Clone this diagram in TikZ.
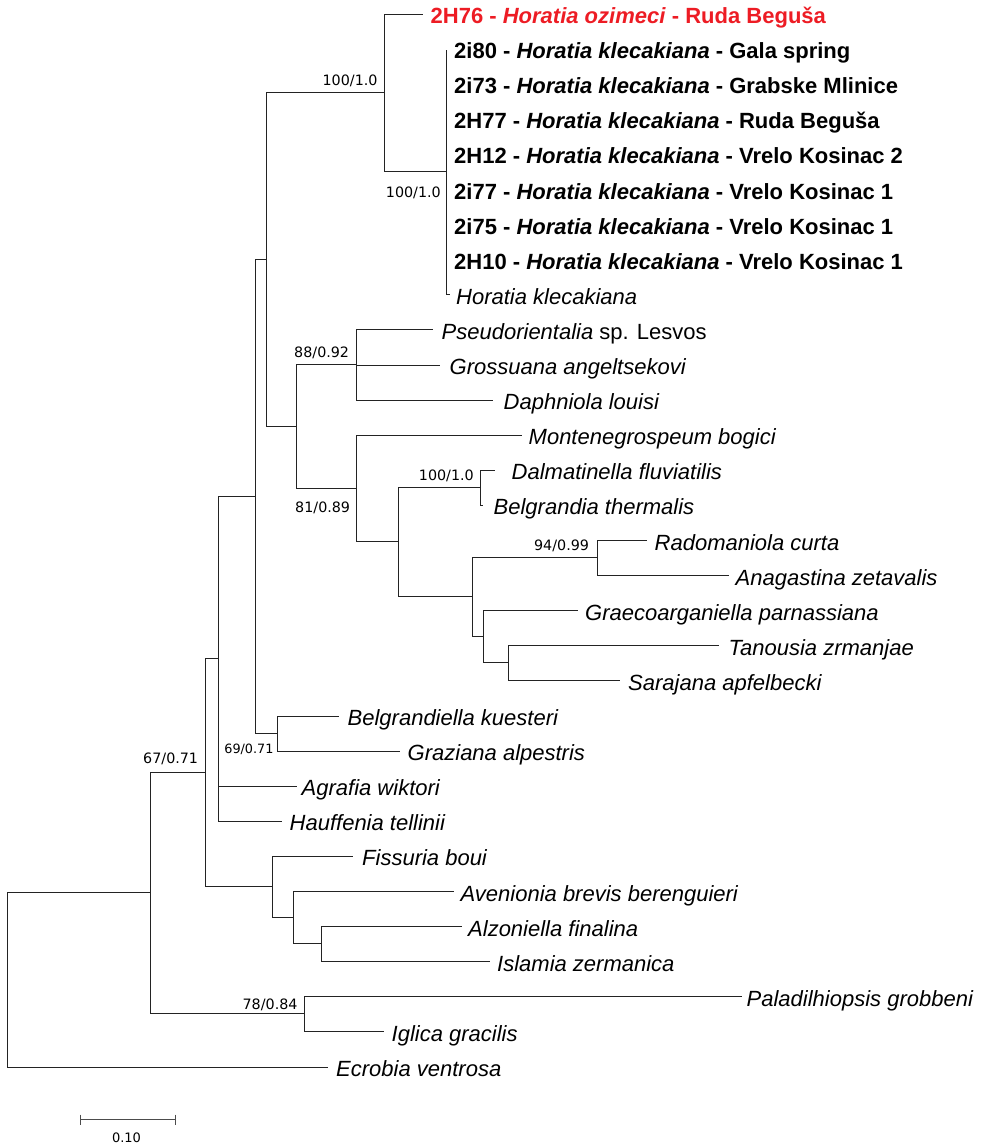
\documentclass[tikz,border=0pt]{standalone}
\usepackage{fontspec}
\setmainfont{Liberation Sans}
\newfontfamily\dvfont{DejaVu Sans}
\usetikzlibrary{calc}
\definecolor{hred}{RGB}{237,28,36}
\definecolor{brc}{RGB}{35,35,35}
\newcommand\leaffont{\fontsize{22}{26}\selectfont}
\newcommand\bootfont{\dvfont\fontsize{14.3}{17}\selectfont}
\newcommand\bootsmall{\dvfont\fontsize{12.8}{15}\selectfont}
\newcommand\mknode[4]{\path let \p1=($(#3)!.5!(#4)$), \n1={floor(\y1)+0.5} in coordinate (#1) at (#2pt,\n1);}
\newcommand\hk{\textit{Horatia klecakiana}}
\tikzset{
  br/.style={line width=1.3pt, draw=brc},
  leaf/.style={anchor=base west, inner sep=0pt, font=\leaffont},
  boot/.style={anchor=base east, inner sep=0pt, font=\bootfont},
  sbar/.style={line width=1.6pt, draw=black!70},
}
\begin{document}
\begin{tikzpicture}[x=1pt,y=-1pt]
\useasboundingbox (0,0) rectangle (983,1146);
% leaf end points
\coordinate (l0) at (423,14.5);
\coordinate (l1) at (446.5,49.5);
\coordinate (l2) at (446.5,84.5);
\coordinate (l3) at (446.5,119.5);
\coordinate (l4) at (446.5,154.5);
\coordinate (l5) at (446.5,189.5);
\coordinate (l6) at (446.5,224.5);
\coordinate (l7) at (446.5,259.5);
\coordinate (l8) at (450,294.5);
\coordinate (l9) at (433.3,329.5);
\coordinate (l10) at (440,365.5);
\coordinate (l11) at (493.3,400.5);
\coordinate (l12) at (521.7,435.5);
\coordinate (l13) at (495,470.5);
\coordinate (l14) at (483,505.5);
\coordinate (l15) at (647.4,540.5);
\coordinate (l16) at (728.9,575.5);
\coordinate (l17) at (578,610.5);
\coordinate (l18) at (719.2,645.5);
\coordinate (l19) at (619.8,680.5);
\coordinate (l20) at (339.3,716.5);
\coordinate (l21) at (400,751.5);
\coordinate (l22) at (296.7,786.5);
\coordinate (l23) at (281.7,821.5);
\coordinate (l24) at (353.3,856.5);
\coordinate (l25) at (454,891.5);
\coordinate (l26) at (461.7,926.5);
\coordinate (l27) at (490,961.5);
\coordinate (l28) at (741.7,996.5);
\coordinate (l29) at (384.3,1031.5);
\coordinate (l30) at (328.3,1067.5);
% internal nodes
\mknode{K}{446.5}{l1}{l8}
\mknode{Hor}{384.5}{l0}{K}
\mknode{M}{356.5}{l9}{l11}
\mknode{Q}{480.5}{l13}{l14}
\mknode{S}{597.5}{l15}{l16}
\mknode{U}{508.5}{l18}{l19}
\mknode{T}{483.5}{l17}{U}
\mknode{R}{472.5}{S}{T}
\mknode{O}{398.5}{Q}{R}
\mknode{N}{356.5}{l12}{O}
\mknode{L}{296.5}{M}{N}
\mknode{E}{266.5}{Hor}{L}
\mknode{BG}{277.5}{l20}{l21}
\mknode{D}{255.5}{E}{BG}
\mknode{C}{218.5}{D}{l23}
\mknode{H}{321.5}{l26}{l27}
\mknode{G}{293.5}{l25}{H}
\mknode{F}{272.5}{l24}{G}
\mknode{B}{205.5}{C}{F}
\mknode{P}{304.5}{l28}{l29}
\mknode{A}{150.5}{B}{P}
\mknode{root}{7.5}{A}{l30}
% branches
\foreach \i in {1,...,8} \draw[br] (K) |- (l\i);
\draw[br] (Hor) |- (l0); \draw[br] (Hor) |- (K);
\foreach \i in {9,10,11} \draw[br] (M) |- (l\i);
\draw[br] (Q) |- (l13); \draw[br] (Q) |- (l14);
\draw[br] (S) |- (l15); \draw[br] (S) |- (l16);
\draw[br] (U) |- (l18); \draw[br] (U) |- (l19);
\draw[br] (T) |- (l17); \draw[br] (T) |- (U);
\draw[br] (R) |- (S); \draw[br] (R) |- (T);
\draw[br] (O) |- (Q); \draw[br] (O) |- (R);
\draw[br] (N) |- (l12); \draw[br] (N) |- (O);
\draw[br] (L) |- (M); \draw[br] (L) |- (N);
\draw[br] (E) |- (Hor); \draw[br] (E) |- (L);
\draw[br] (BG) |- (l20); \draw[br] (BG) |- (l21);
\draw[br] (D) |- (E); \draw[br] (D) |- (BG);
\draw[br] (C) |- (D); \draw[br] (C) |- (l22); \draw[br] (C) |- (l23);
\draw[br] (H) |- (l26); \draw[br] (H) |- (l27);
\draw[br] (G) |- (l25); \draw[br] (G) |- (H);
\draw[br] (F) |- (l24); \draw[br] (F) |- (G);
\draw[br] (B) |- (C); \draw[br] (B) |- (F);
\draw[br] (P) |- (l28); \draw[br] (P) |- (l29);
\draw[br] (A) |- (B); \draw[br] (A) |- (P);
\draw[br] (root) |- (A); \draw[br] (root) |- (l30);
% leaf labels
\node[leaf, text=hred] (t0) at (430.5,23.5) {\textbf{2H76 - \textit{Horatia ozimeci} - Ruda Beguša}};
\node[leaf] (t1) at (454,58.6) {\textbf{2i80 - \hk{} - Gala spring}};
\node[leaf] (t2) at (454,93.7) {\textbf{2i73 - \hk{} - Grabske Mlinice}};
\node[leaf] (t3) at (454,128.8) {\textbf{2H77 - \hk{} - Ruda Beguša}};
\node[leaf] (t4) at (454,163.9) {\textbf{2H12 - \hk{} - Vrelo Kosinac 2}};
\node[leaf] (t5) at (454,199) {\textbf{2i77 - \hk{} - Vrelo Kosinac 1}};
\node[leaf] (t6) at (454,234.1) {\textbf{2i75 - \hk{} - Vrelo Kosinac 1}};
\node[leaf] (t7) at (454,269.2) {\textbf{2H10 - \hk{} - Vrelo Kosinac 1}};
\node[leaf] (t8) at (456,304.3) {\textit{Horatia klecakiana}};
\node[leaf] (t9) at (441.5,339.4) {\textit{Pseudorientalia} sp. Lesvos};
\node[leaf] (t10) at (449.5,374.5) {\textit{Grossuana angeltsekovi}};
\node[leaf] (t11) at (503.5,409.6) {\textit{Daphniola louisi}};
\node[leaf] (t12) at (528.5,444.7) {\textit{Montenegrospeum bogici}};
\node[leaf] (t13) at (511.5,479.8) {\textit{Dalmatinella fluviatilis}};
\node[leaf] (t14) at (493.5,514.9) {\textit{Belgrandia thermalis}};
\node[leaf] (t15) at (654.5,550) {\textit{Radomaniola curta}};
\node[leaf] (t16) at (735.5,585.1) {\textit{Anagastina zetavalis}};
\node[leaf] (t17) at (585,620.2) {\textit{Graecoarganiella parnassiana}};
\node[leaf] (t18) at (728.5,655.3) {\textit{Tanousia zrmanjae}};
\node[leaf] (t19) at (628,690.4) {\textit{Sarajana apfelbecki}};
\node[leaf] (t20) at (347.5,725.5) {\textit{Belgrandiella kuesteri}};
\node[leaf] (t21) at (407.5,760.6) {\textit{Graziana alpestris}};
\node[leaf] (t22) at (301.5,795.7) {\textit{Agrafia wiktori}};
\node[leaf] (t23) at (289.5,830.8) {\textit{Hauffenia tellinii}};
\node[leaf] (t24) at (362,865.9) {\textit{Fissuria boui}};
\node[leaf] (t25) at (460.5,901) {\textit{Avenionia brevis berenguieri}};
\node[leaf] (t26) at (468,936.1) {\textit{Alzoniella finalina}};
\node[leaf] (t27) at (497,971.2) {\textit{Islamia zermanica}};
\node[leaf] (t28) at (746.5,1006.3) {\textit{Paladilhiopsis grobbeni}};
\node[leaf] (t29) at (391.5,1041.4) {\textit{Iglica gracilis}};
\node[leaf] (t30) at (336,1076.5) {\textit{Ecrobia ventrosa}};
% support values
\node[boot] (bHor) at (377.7,85) {100/1.0};
\node[boot] (bK) at (441,197) {100/1.0};
\node[boot] (bM) at (349.3,357.3) {88/0.92};
\node[boot] (bN) at (350.3,512.7) {81/0.89};
\node[boot] (bQ) at (474,480.7) {100/1.0};
\node[boot] (bS) at (589.2,550) {94/0.99};
\node[boot, font=\bootsmall] (bBG) at (273.7,753.3) {69/0.71};
\node[boot] (bB) at (198.3,763.3) {67/0.71};
\node[boot] (bP) at (297.7,1009.3) {78/0.84};
% scale bar
\coordinate (sb1) at (80.5,1119.5);
\coordinate (sb2) at (175.5,1119.5);
\draw[sbar] (sb1) -- (sb2);
\draw[sbar] ([yshift=5pt]sb1) -- ([yshift=-5.3pt]sb1);
\draw[sbar] ([yshift=5pt]sb2) -- ([yshift=-5.3pt]sb2);
\node[anchor=base, inner sep=0pt, font=\dvfont\fontsize{13}{15}\selectfont] (sbl) at (126.5,1142.7) {0.10};
\end{tikzpicture}
\end{document}
